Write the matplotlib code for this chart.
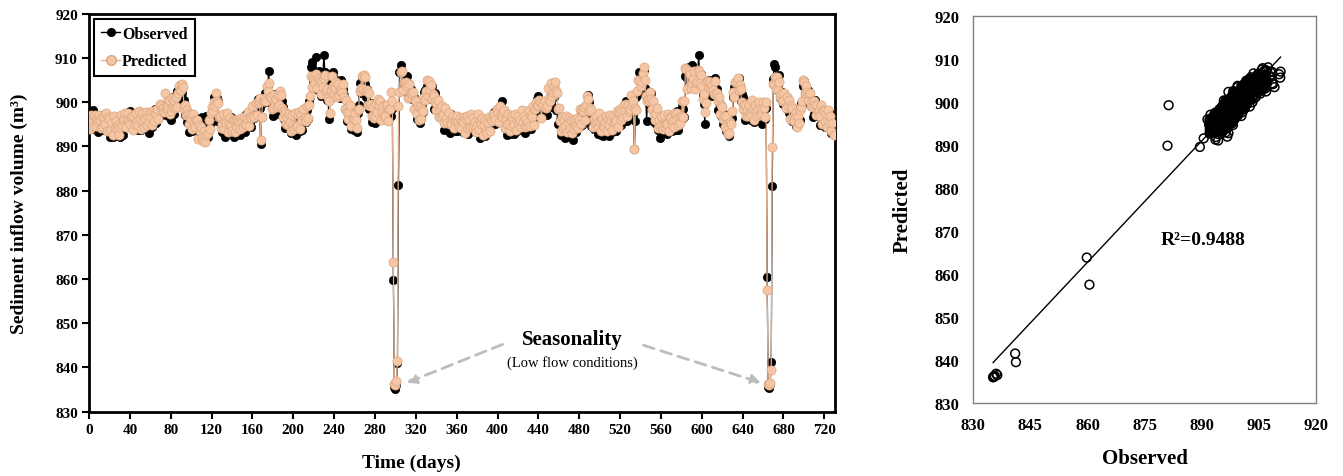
import numpy as np
import matplotlib
matplotlib.use("Agg")
import matplotlib.pyplot as plt
from matplotlib.lines import Line2D

# ---------------- data (daily values, day 0 .. 729) ----------------
observed = [
    896.4, 895.1, 895.2, 893.9, 898.2, 894.7, 895.4, 894.6, 896.5, 893.3,
    893.7, 897.1, 894.9, 895.6, 893.8, 897.0, 894.1, 895.9, 895.7, 894.2,
    894.5, 892.1, 894.6, 892.1, 892.3, 893.4, 895.6, 892.8, 893.7, 892.5,
    892.1, 895.4, 896.5, 892.7, 896.3, 895.7, 896.5, 896.2, 896.0, 897.9,
    898.0, 895.3, 894.2, 896.0, 894.8, 896.7, 894.9, 896.2, 893.8, 896.8,
    896.4, 893.7, 895.9, 894.5, 896.9, 894.4, 896.2, 894.8, 895.7, 893.1,
    894.7, 897.7, 894.4, 897.2, 895.7, 898.5, 895.4, 896.9, 898.7, 897.4,
    897.3, 897.1, 899.0, 898.4, 898.5, 899.0, 899.0, 896.9, 900.4, 898.1,
    896.0, 899.5, 901.1, 897.3, 898.8, 899.5, 902.6, 899.9, 899.4, 904.0,
    903.1, 902.1, 899.4, 900.5, 897.2, 897.3, 895.5, 897.9, 893.3, 895.4,
    896.5, 893.5, 895.5, 894.4, 896.7, 895.2, 895.0, 893.7, 895.7, 892.9,
    893.9, 896.7, 893.6, 895.3, 894.3, 897.0, 892.1, 895.3, 896.7, 895.4,
    897.6, 897.2, 901.1, 899.8, 900.1, 900.9, 900.2, 895.5, 896.7, 895.2,
    893.3, 895.9, 895.6, 892.2, 895.3, 894.5, 895.7, 894.1, 893.4, 896.6,
    896.0, 894.7, 892.2, 895.6, 894.3, 894.7, 893.5, 896.1, 892.5, 894.8,
    895.8, 894.3, 894.7, 893.3, 897.4, 894.5, 896.1, 894.8, 895.5, 894.5,
    896.5, 898.0, 896.5, 899.2, 897.0, 900.7, 898.6, 898.7, 890.5, 896.7,
    899.9, 900.4, 902.0, 901.9, 900.4, 903.9, 907.2, 899.9, 900.8, 898.9,
    897.0, 900.2, 901.8, 897.4, 898.5, 898.7, 901.9, 901.4, 898.6, 900.3,
    899.0, 896.3, 894.2, 897.6, 894.4, 895.1, 895.0, 895.5, 893.0, 895.6,
    894.6, 893.8, 895.9, 892.7, 897.0, 895.7, 896.2, 893.6, 896.3, 893.7,
    895.7, 897.3, 895.6, 898.2, 896.2, 900.2, 901.3, 907.9, 909.1, 904.8,
    904.6, 905.4, 910.3, 905.0, 902.7, 907.0, 906.5, 901.5, 906.0, 906.8,
    910.6, 906.9, 905.1, 900.6, 900.6, 896.3, 900.7, 903.7, 905.6, 906.8,
    905.4, 902.3, 902.4, 904.2, 903.7, 902.5, 900.9, 905.0, 902.6, 903.0,
    901.7, 898.4, 898.5, 895.8, 898.4, 895.5, 897.7, 894.0, 894.7, 893.7,
    893.8, 896.8, 893.2, 897.5, 899.3, 904.3, 902.2, 905.5, 905.6, 904.5,
    904.1, 901.2, 903.0, 899.7, 898.4, 899.5, 899.8, 895.6, 898.7, 897.3,
    895.3, 898.0, 899.5, 898.5, 899.6, 897.2, 898.4, 896.8, 896.2, 898.5,
    899.5, 898.2, 895.9, 897.8, 896.4, 898.5, 897.0, 898.4, 859.8, 835.6,
    835.2, 836.0, 841.0, 881.3, 906.9, 908.5, 907.0, 903.9, 904.1, 903.5,
    903.0, 905.9, 901.5, 904.2, 901.9, 903.1, 900.7, 901.5, 901.3, 898.7,
    899.0, 896.2, 900.0, 896.6, 895.4, 896.6, 899.1, 897.8, 902.4, 902.7,
    902.4, 903.8, 903.5, 901.7, 903.2, 900.8, 903.6, 901.0, 898.4, 902.0,
    900.8, 898.3, 897.7, 899.1, 896.7, 897.1, 897.0, 897.6, 893.8, 897.3,
    896.5, 895.2, 895.6, 893.0, 897.4, 894.5, 895.0, 893.8, 894.6, 893.5,
    893.5, 896.3, 894.1, 895.0, 893.7, 896.4, 893.3, 894.9, 894.9, 893.8,
    895.3, 892.8, 896.5, 895.1, 893.4, 894.9, 896.6, 893.6, 895.2, 893.9,
    893.2, 895.8, 895.4, 892.0, 895.0, 892.8, 894.3, 893.0, 892.4, 894.1,
    895.1, 894.1, 893.4, 895.7, 894.6, 896.5, 895.1, 897.7, 895.2, 897.2,
    898.4, 895.6, 898.2, 896.7, 900.4, 896.6, 896.8, 894.2, 894.9, 892.5,
    894.4, 896.0, 892.9, 895.8, 894.4, 897.0, 892.9, 896.0, 896.1, 893.6,
    895.5, 894.4, 896.5, 894.9, 894.9, 896.2, 897.5, 893.1, 896.1, 895.9,
    894.1, 896.9, 896.1, 893.9, 896.9, 896.3, 897.5, 897.7, 897.2, 900.8,
    901.5, 898.9, 896.6, 898.6, 897.8, 899.8, 897.6, 898.8, 897.2, 900.8,
    900.5, 899.6, 901.6, 899.0, 903.9, 901.2, 901.6, 898.3, 898.4, 895.2,
    895.2, 896.0, 892.5, 895.1, 893.4, 895.9, 892.0, 895.1, 895.1, 892.7,
    894.6, 892.4, 896.1, 892.9, 891.5, 893.4, 895.6, 893.2, 896.2, 894.8,
    894.3, 896.9, 896.5, 894.9, 897.8, 895.5, 898.3, 898.3, 898.0, 901.6,
    900.0, 897.0, 894.6, 896.6, 894.0, 895.8, 894.2, 895.5, 892.9, 896.0,
    895.5, 892.7, 893.7, 892.4, 896.4, 893.1, 894.6, 893.2, 895.1, 892.4,
    894.1, 896.8, 893.3, 895.8, 895.5, 896.6, 893.5, 896.5, 896.6, 895.5,
    897.1, 894.8, 898.6, 897.1, 895.8, 898.7, 900.2, 895.8, 899.4, 899.1,
    897.1, 900.1, 901.2, 897.1, 889.5, 895.8, 901.1, 901.6, 902.3, 906.8,
    906.3, 903.4, 903.6, 907.4, 903.2, 901.5, 895.8, 901.2, 899.6, 901.1,
    902.0, 898.7, 898.7, 895.6, 898.3, 895.2, 897.0, 893.8, 894.4, 892.0,
    893.9, 895.1, 893.5, 896.1, 894.0, 895.2, 892.8, 895.8, 895.7, 894.3,
    894.6, 893.6, 896.2, 895.0, 893.7, 896.5, 898.0, 893.7, 896.6, 896.6,
    895.9, 899.1, 898.6, 896.6, 906.0, 905.8, 906.5, 908.0, 904.8, 905.9,
    908.5, 905.0, 906.4, 906.7, 903.4, 907.0, 906.9, 910.7, 905.1, 906.3,
    905.0, 901.6, 899.7, 895.0, 903.3, 904.2, 904.0, 905.1, 904.7, 901.7,
    901.4, 904.6, 902.7, 905.6, 902.4, 903.0, 898.3, 899.9, 899.7, 897.0,
    897.3, 895.1, 897.4, 894.6, 893.5, 896.2, 896.3, 892.3, 895.8, 896.2,
    896.5, 901.1, 903.4, 901.9, 904.9, 904.3, 905.5, 903.2, 900.4, 901.9,
    901.2, 898.3, 896.0, 899.4, 896.4, 897.3, 897.1, 898.0, 896.0, 899.4,
    898.6, 895.6, 897.6, 896.4, 899.4, 896.5, 898.4, 897.0, 897.5, 895.1,
    897.1, 899.8, 896.2, 898.7, 860.5, 835.5, 835.3, 836.3, 841.2, 881.0,
    905.3, 908.7, 908.0, 904.7, 902.9, 904.0, 906.1, 900.9, 902.4, 902.3,
    899.7, 900.9, 900.6, 898.6, 899.4, 897.5, 898.9, 898.6, 895.8, 897.9,
    898.5, 895.6, 894.6, 896.5, 895.2, 895.8, 896.1, 899.8, 899.3, 903.8,
    904.8, 901.9, 901.9, 900.8, 902.9, 900.0, 900.4, 899.2, 899.3, 896.7,
    897.4, 900.6, 897.0, 898.3, 898.2, 898.9, 894.9, 898.1, 897.6, 896.2,
    896.5, 894.4, 898.1, 894.9, 894.9, 896.1, 897.5, 893.1, 896.1, 895.1,
]

predicted = [
    896.1, 894.0, 897.2, 895.7, 894.6, 896.8, 897.1, 894.7, 896.4, 895.8,
    897.2, 896.0, 894.1, 896.7, 894.4, 896.5, 895.1, 897.6, 893.5, 896.6,
    896.2, 893.7, 895.3, 892.6, 897.0, 894.1, 895.8, 894.1, 894.8, 892.7,
    894.4, 897.1, 894.8, 896.1, 896.3, 897.6, 894.3, 896.2, 897.5, 896.0,
    895.0, 896.6, 896.8, 893.7, 896.6, 895.2, 897.6, 895.7, 894.9, 898.0,
    896.2, 894.0, 897.6, 895.8, 894.5, 896.4, 897.9, 894.8, 896.6, 895.6,
    897.9, 896.6, 894.8, 898.1, 895.8, 897.9, 897.4, 898.6, 896.2, 899.7,
    899.2, 898.3, 898.7, 897.9, 902.2, 898.7, 899.0, 898.2, 900.6, 897.3,
    898.0, 900.9, 898.9, 900.5, 898.8, 901.3, 898.9, 902.0, 903.7, 902.7,
    902.7, 904.2, 903.4, 898.6, 899.5, 897.1, 898.2, 897.4, 895.1, 897.2,
    896.2, 894.0, 897.3, 895.8, 894.4, 895.9, 896.0, 891.8, 894.9, 893.4,
    894.5, 891.9, 891.2, 893.6, 891.0, 892.7, 893.0, 896.0, 893.9, 897.6,
    899.0, 898.0, 900.1, 899.2, 902.0, 900.3, 899.8, 896.6, 896.8, 894.2,
    895.0, 897.4, 894.0, 895.7, 895.3, 897.5, 893.3, 895.4, 896.4, 894.8,
    893.6, 896.0, 895.9, 893.3, 896.1, 894.3, 896.1, 895.5, 893.9, 896.5,
    895.6, 894.4, 896.7, 895.1, 894.9, 896.4, 897.7, 894.7, 896.6, 896.5,
    899.1, 896.9, 896.6, 899.9, 897.1, 899.8, 900.4, 900.9, 891.5, 896.6,
    900.3, 900.3, 901.0, 900.4, 903.7, 902.5, 904.4, 901.2, 901.3, 898.5,
    898.8, 901.7, 899.7, 900.8, 899.0, 901.7, 899.4, 902.6, 901.6, 898.8,
    896.7, 898.0, 897.6, 895.2, 896.6, 894.9, 897.4, 895.5, 893.6, 897.2,
    894.9, 894.0, 897.6, 894.7, 894.7, 897.4, 897.8, 893.9, 897.3, 896.0,
    898.6, 896.4, 895.8, 899.1, 896.4, 899.4, 901.4, 906.0, 903.4, 905.6,
    905.1, 904.3, 906.4, 903.3, 905.4, 904.7, 905.0, 901.9, 904.5, 903.5,
    905.6, 906.1, 902.3, 903.1, 901.0, 900.3, 897.6, 902.9, 905.9, 903.7,
    901.9, 903.2, 904.5, 901.1, 904.2, 901.6, 902.9, 903.1, 902.4, 904.1,
    901.3, 898.6, 900.5, 897.7, 896.3, 897.7, 899.3, 894.6, 896.4, 896.2,
    897.3, 896.0, 894.1, 898.3, 898.6, 902.5, 903.2, 906.0, 903.1, 906.1,
    905.7, 902.5, 902.7, 899.5, 902.2, 899.1, 899.7, 897.0, 898.9, 896.5,
    897.0, 899.6, 897.7, 900.7, 899.3, 900.2, 896.0, 897.9, 899.1, 896.8,
    896.9, 899.4, 899.3, 895.7, 898.4, 898.5, 902.3, 900.2, 863.8, 836.3,
    836.0, 836.8, 841.5, 899.2, 902.4, 906.9, 907.2, 902.9, 904.4, 904.3,
    904.7, 903.7, 900.9, 904.1, 901.1, 902.0, 901.8, 902.4, 898.5, 900.6,
    900.2, 897.3, 899.1, 896.1, 899.0, 896.2, 898.4, 898.0, 901.1, 900.5,
    902.6, 905.1, 901.5, 904.9, 902.8, 903.9, 900.7, 901.8, 901.4, 900.0,
    898.3, 899.6, 900.6, 896.7, 898.6, 896.7, 899.2, 897.2, 895.3, 898.7,
    896.5, 895.3, 897.6, 895.0, 895.0, 896.5, 897.0, 894.1, 896.0, 895.8,
    896.9, 895.5, 894.4, 896.4, 894.2, 896.0, 895.5, 896.7, 893.0, 896.2,
    896.9, 894.2, 896.0, 894.5, 897.3, 894.7, 896.4, 894.8, 895.6, 893.3,
    894.9, 897.4, 894.0, 895.7, 895.2, 896.4, 892.5, 894.8, 895.9, 893.4,
    893.1, 895.6, 896.6, 893.4, 896.3, 895.7, 897.3, 896.8, 896.0, 898.4,
    897.7, 895.5, 899.2, 897.4, 896.7, 897.9, 898.2, 894.2, 896.1, 895.0,
    897.3, 895.2, 893.5, 896.8, 894.6, 896.4, 895.1, 897.4, 893.8, 896.1,
    897.0, 895.3, 896.0, 894.4, 898.3, 895.6, 897.0, 894.4, 896.2, 894.7,
    895.5, 898.2, 894.6, 897.1, 896.7, 899.1, 894.9, 898.5, 900.1, 899.2,
    899.5, 900.6, 900.0, 896.4, 899.8, 899.5, 900.4, 898.7, 899.2, 903.2,
    900.9, 900.4, 904.3, 901.5, 902.3, 903.7, 904.6, 902.5, 902.1, 898.6,
    898.7, 895.7, 893.6, 896.7, 894.2, 895.9, 894.7, 897.0, 893.3, 895.6,
    896.5, 894.0, 895.9, 893.0, 895.9, 893.9, 895.8, 894.6, 896.5, 894.2,
    896.0, 898.5, 895.1, 898.2, 898.0, 899.0, 896.1, 899.5, 901.5, 900.7,
    898.1, 898.8, 898.2, 894.5, 896.2, 895.4, 896.8, 895.4, 894.4, 897.5,
    895.5, 893.4, 896.2, 894.6, 894.3, 895.6, 896.8, 893.6, 896.3, 894.9,
    897.2, 895.9, 893.8, 897.0, 895.5, 896.2, 895.7, 898.0, 894.3, 897.7,
    898.6, 896.1, 898.1, 896.6, 899.5, 898.1, 899.7, 897.0, 899.5, 898.0,
    898.6, 901.6, 899.5, 900.3, 889.5, 898.7, 898.3, 902.5, 905.1, 904.8,
    903.7, 904.6, 906.6, 908.0, 905.0, 901.5, 900.3, 900.8, 900.6, 902.4,
    900.7, 898.4, 900.4, 897.4, 896.0, 897.3, 898.7, 894.2, 895.9, 894.7,
    897.0, 894.7, 894.0, 897.1, 894.4, 895.2, 895.1, 897.4, 893.5, 896.6,
    896.4, 894.8, 895.8, 894.5, 897.5, 895.9, 897.5, 894.8, 896.7, 895.4,
    896.8, 900.3, 896.6, 900.2, 907.8, 907.5, 903.1, 907.0, 906.5, 903.2,
    904.3, 905.2, 907.2, 903.1, 904.4, 904.7, 907.3, 907.0, 904.4, 906.2,
    903.7, 900.8, 901.8, 897.9, 899.9, 904.5, 904.8, 903.3, 904.6, 903.0,
    903.9, 902.7, 901.8, 904.9, 901.6, 902.0, 900.2, 901.3, 897.3, 899.3,
    899.0, 896.3, 897.0, 894.3, 896.9, 893.7, 892.9, 893.0, 895.6, 895.0,
    898.0, 902.3, 901.3, 904.7, 904.6, 905.6, 902.7, 903.9, 903.1, 900.0,
    898.5, 899.6, 899.3, 896.9, 898.3, 896.8, 899.3, 897.5, 897.2, 900.6,
    898.4, 895.9, 899.4, 898.0, 896.9, 898.4, 900.0, 897.1, 898.6, 897.4,
    900.0, 898.8, 896.6, 900.1, 857.5, 836.2, 836.0, 836.5, 839.5, 889.8,
    904.2, 904.1, 905.7, 903.0, 905.7, 902.7, 904.6, 901.2, 901.9, 900.4,
    900.6, 902.1, 898.7, 901.3, 899.2, 900.5, 896.3, 899.2, 898.7, 896.2,
    895.8, 897.1, 897.8, 894.3, 897.0, 895.3, 898.3, 899.0, 900.4, 905.0,
    904.5, 902.0, 903.8, 902.3, 900.5, 901.8, 902.0, 899.1, 900.4, 898.9,
    900.3, 899.3, 897.2, 899.3, 898.0, 898.3, 897.0, 899.4, 895.2, 898.2,
    898.0, 895.5, 897.3, 894.4, 898.3, 895.3, 896.8, 893.6, 895.3, 892.6,
]

assert len(observed) == len(predicted)
days = np.arange(len(observed))

ts_xticks = list(range(0, 721, 40))
ts_yticks = list(range(830, 921, 10))
sc_xticks = list(range(830, 921, 15))
sc_yticks = list(range(830, 921, 10))
r2_text = "R\u00b2=0.9488"

# ---------------- style ----------------
SERIF = ["Liberation Serif", "DejaVu Serif"]
plt.rcParams["font.family"] = SERIF
plt.rcParams["font.weight"] = "bold"

PEACH_FACE = "#F6C6A4"
PEACH_EDGE = "#D9A680"
PEACH_LINE = "#E2B290"

fig = plt.figure(figsize=(13.43, 4.77), dpi=100)

# ---------------- time-series panel ----------------
ax1 = fig.add_axes([0.0663, 0.1352, 0.5551, 0.8334])
ax1.plot(days, observed, color="black", lw=0.9, marker="o", ms=6.0,
         mfc="black", mec="black", mew=0.5, zorder=2)
ax1.plot(days, predicted, color=PEACH_LINE, lw=0.9, marker="o", ms=6.6,
         mfc=PEACH_FACE, mec=PEACH_EDGE, mew=0.5, zorder=3)

ax1.set_xlim(0, 730)
ax1.set_ylim(830, 920)
ax1.set_xticks(ts_xticks)
ax1.set_yticks(ts_yticks)
for s in ax1.spines.values():
    s.set_linewidth(2.0)
    s.set_color("black")
ax1.tick_params(direction="out", length=5, width=1.5, labelsize=11, pad=3)
for lab in ax1.get_xticklabels() + ax1.get_yticklabels():
    lab.set_fontweight("bold")

ax1.set_xlabel("Time (days)", fontsize=14, fontweight="bold")
ax1.xaxis.set_label_coords(0.432, -0.107)
ax1.set_ylabel("Sediment inflow volume (m\u00b3)", fontsize=14, fontweight="bold")
ax1.yaxis.set_label_coords(-0.082, 0.5)

h_obs = Line2D([], [], color="black", lw=1.0, marker="o", ms=5.5,
               mfc="black", mec="black")
h_pred = Line2D([], [], color=PEACH_LINE, lw=1.0, marker="o", ms=7,
                mfc=PEACH_FACE, mec=PEACH_EDGE)
leg = ax1.legend([h_obs, h_pred], ["Observed", "Predicted"], loc="upper left",
                 bbox_to_anchor=(-0.004, 1.008), fancybox=False, shadow=False,
                 framealpha=1, edgecolor="black", handlelength=1.2,
                 handletextpad=0.1, borderpad=0.45, labelspacing=0.7,
                 prop={"family": SERIF, "weight": "bold", "size": 11.5})
leg.get_frame().set_linewidth(1.5)

# seasonality annotation
ax1.text(473, 846.5, "Seasonality", ha="center", va="center",
         fontsize=15, fontweight="bold")
ax1.text(473, 841.3, "(Low flow conditions)", ha="center", va="center",
         fontsize=10.5, fontweight="normal")
arrow_kw = dict(arrowstyle="-|>", linestyle=(0, (4, 2.5)), color="#BDBDBD",
                lw=2.0, mutation_scale=14, shrinkA=0, shrinkB=0)
ax1.annotate("", xy=(311, 836.5), xytext=(405, 845.2), arrowprops=arrow_kw)
ax1.annotate("", xy=(658, 836.5), xytext=(543, 845.0), arrowprops=arrow_kw)

# ---------------- scatter panel ----------------
ax2 = fig.add_axes([0.7247, 0.153, 0.2552, 0.812])
obs_arr = np.array(observed)
pred_arr = np.array(predicted)
ax2.scatter(obs_arr, pred_arr, s=40, facecolors="none", edgecolors="black",
            linewidths=1.1, zorder=3)
slope, intercept = np.polyfit(obs_arr, pred_arr, 1)
xs = np.array([obs_arr.min(), obs_arr.max()])
ax2.plot(xs, slope * xs + intercept, color="black", lw=1.0, zorder=2)

ax2.set_xlim(830, 920)
ax2.set_ylim(830, 920)
ax2.set_xticks(sc_xticks)
ax2.set_yticks(sc_yticks)
for s in ax2.spines.values():
    s.set_linewidth(1.0)
    s.set_color("#808080")
ax2.tick_params(length=0, labelsize=12, pad=10)
for lab in ax2.get_xticklabels() + ax2.get_yticklabels():
    lab.set_fontweight("bold")
ax2.set_xlabel("Observed", fontsize=15, fontweight="bold")
ax2.xaxis.set_label_coords(0.5, -0.116)
ax2.set_ylabel("Predicted", fontsize=15, fontweight="bold")
ax2.yaxis.set_label_coords(-0.176, 0.5)
ax2.text(890.3, 867.9, r2_text, ha="center", va="center", fontsize=14,
         fontweight="bold")

fig.savefig("out.png", dpi=100)
